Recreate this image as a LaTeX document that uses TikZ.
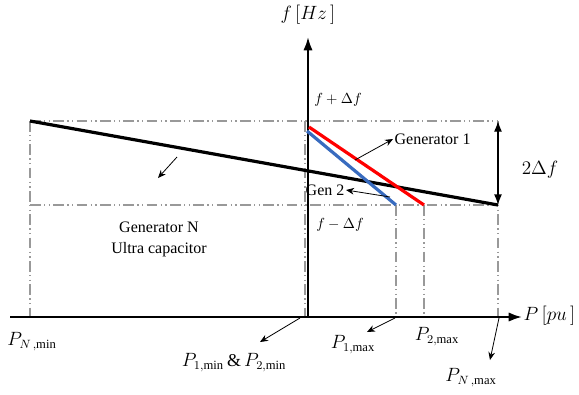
\documentclass[tikz,border=0pt]{standalone}
\usepackage{fontspec}
\setmainfont{Liberation Serif}
\usetikzlibrary{arrows.meta}
\definecolor{mygray}{rgb}{0.6,0.6,0.6}
\definecolor{myred}{rgb}{1,0,0}
\definecolor{myblue}{rgb}{0.22,0.42,0.75}
\tikzset{
  dd/.style={mygray,line width=1.2pt,dash pattern=on 8pt off 2.5pt on 1pt off 2.5pt on 1pt off 2.5pt},
  lbl/.style={font=\fontsize{12}{14}\selectfont,inner sep=1pt},
  plbl/.style={font=\fontsize{13.5}{15}\selectfont,inner sep=1pt},
  albl/.style={font=\fontsize{15}{17}\selectfont,inner sep=1pt},
  pt/.style={line width=.6pt,-{Stealth[length=6pt,width=5pt]}}
}

\begin{document}
\begin{tikzpicture}[x=0.75pt,y=-0.75pt]
  \useasboundingbox (0,0) rectangle (579,394);
  % frequency band
  \draw[dd] (30,121) -- (498,121);
  \draw[dd] (30,205) -- (498,205);
    \foreach \vx/\vy in {30/121,305/121,396/205,424/205,498/121} {
      \draw[dd] (\vx,\vy) -- (\vx,317);}
  % axes
  \coordinate (xl) at (10,317);
  \coordinate (xr) at (522,317);
  \coordinate (o) at (308,317);
  \coordinate (yt) at (308,37);
  \draw[line width=1.6pt,-{Latex[length=10pt,width=7pt]}] (xl) -- (xr);
  \draw[line width=1.6pt,-{Latex[length=10pt,width=7pt]}] (o) -- (yt);
    \node[albl,anchor=west] (ppu) at (522,316) {$P\,[pu\,]$};
    \node[albl] (fhz) at (308,15) {$f\,[Hz\,]$};
  % droop lines
  \draw[line width=2.4pt] (30,121) -- (498,205);
  \draw[myred,line width=2.4pt] (309,127) -- (424,205);
  \draw[myblue,line width=2.4pt] (307,131) -- (396,205);
  % 2 delta f
  \coordinate (dt) at (498,121);
  \coordinate (db) at (498,205);
  \draw[line width=1pt,{Latex[length=8pt,width=6pt]}-{Latex[length=8pt,width=6pt]}] (dt) -- (db);
    \node[albl] (twodf) at (540,170) {$2\Delta f$};
  % labels
  \node[font=\fontsize{11}{13}\selectfont,inner sep=1pt] (fup) at (338,100) {$f+\Delta f$};
  \node[font=\fontsize{11}{13}\selectfont,inner sep=1pt] (fdn) at (340,225) {$f-\Delta f$};
  \node[lbl,anchor=west] (gen1) at (393,139) {Generator 1};
  \node[lbl,anchor=east] (gen2) at (346,190) {Gen 2};
  \node[lbl] (genN) at (159,227) {Generator N};
  \node[lbl] (ucap) at (159,250) {Ultra capacitor};
  \node[plbl] (pnmin) at (32,342) {$P_{N\,,\mathrm{min}}$};
  \node[plbl] (p12min) at (234,363) {$P_{1,\mathrm{min}}\,\&\,P_{2,\mathrm{min}}$};
  \node[plbl] (p1max) at (353,345) {$P_{1,\mathrm{max}}$};
  \node[plbl] (p2max) at (437,337) {$P_{2,\mathrm{max}}$};
  \node[plbl] (pnmax) at (471,378) {$P_{N\,,\mathrm{max}}$};
  % pointers
  \coordinate (g1s) at (355,160);
  \coordinate (g2s) at (390,197);
  \coordinate (gns) at (177,157);
  \coordinate (gne) at (158,178);
  \coordinate (mins) at (300,318);
  \coordinate (mine) at (260,342);
  \coordinate (p1s) at (395,318);
  \coordinate (p1e) at (367,332);
  \coordinate (pns) at (499,318);
  \coordinate (pne) at (490,360);
  \draw[pt] (g1s) -- (gen1.west);
  \draw[pt] (g2s) -- (gen2.east);
  \draw[pt] (gns) -- (gne);
  \draw[pt] (mins) -- (mine);
  \draw[pt] (p1s) -- (p1e);
  \draw[pt] (pns) -- (pne);
\end{tikzpicture}
\end{document}
